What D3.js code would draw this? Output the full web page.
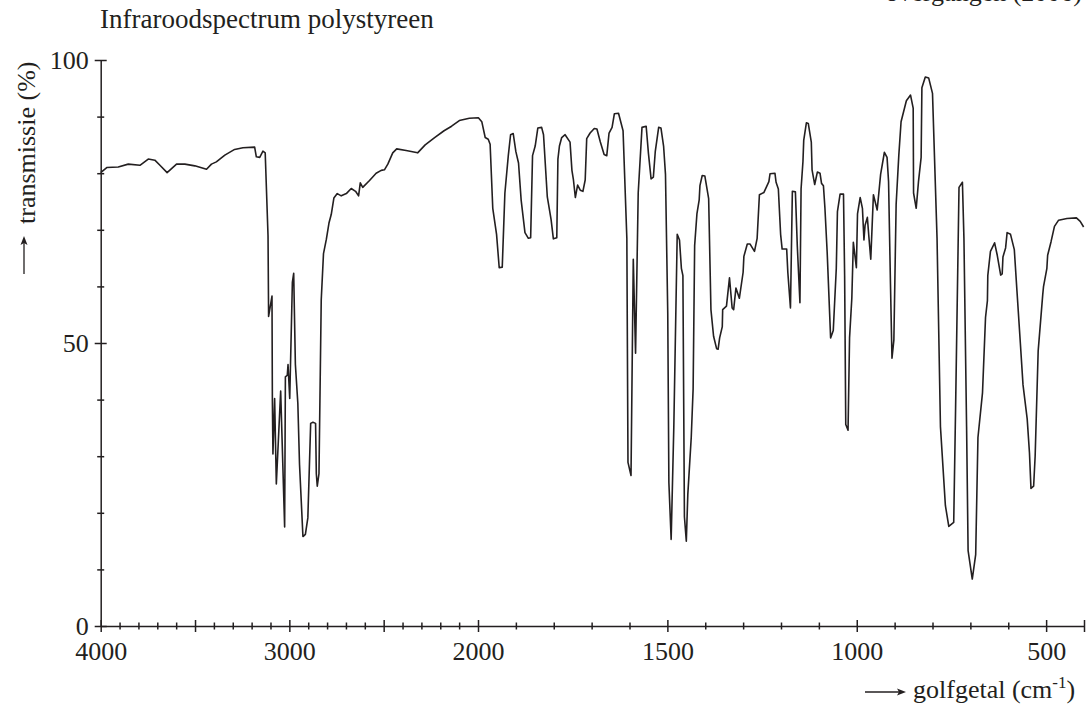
<!DOCTYPE html>
<html>
<head>
<meta charset="utf-8">
<script src="https://cdn.jsdelivr.net/npm/d3@7"></script>
<style>
  body { margin: 0; background: #fff; }
  text { font-family: "Liberation Serif", "Times New Roman", serif; fill: #231f20; }
</style>
</head>
<body>
<svg id="chart" width="1091" height="707"></svg>
<script>
// spectrum: wavenumber (cm-1) and transmission (%)
const wavenumber = [
  4000, 3968, 3907, 3854, 3792, 3748, 3713, 3686, 3648, 3598, 3554, 3501, 3439, 3413, 3387, 3342,
  3290, 3246, 3184, 3175, 3157, 3140, 3128, 3113, 3110, 3092, 3090, 3087, 3078, 3069, 3046, 3025,
  3021, 3011, 3007, 2998, 2984, 2977, 2968, 2955, 2946, 2928, 2915, 2902, 2887, 2875, 2861, 2857,
  2852, 2843, 2831, 2819, 2804, 2790, 2778, 2764, 2746, 2725, 2698, 2672, 2649, 2633, 2624, 2611,
  2575, 2540, 2513, 2496, 2478, 2452, 2431, 2381, 2320, 2280, 2230, 2180, 2140, 2099, 2046, 1999,
  1990, 1981, 1973, 1968, 1961, 1951, 1944, 1936, 1929, 1920, 1914, 1907, 1900, 1893, 1886, 1876,
  1867, 1861, 1856, 1849, 1842, 1832, 1827, 1817, 1807, 1801, 1792, 1789, 1785, 1779, 1770, 1757,
  1752, 1748, 1743, 1737, 1730, 1723, 1717, 1713, 1704, 1693, 1686, 1677, 1667, 1660, 1654, 1646,
  1640, 1629, 1617, 1607, 1604, 1596, 1590, 1584, 1577, 1567, 1556, 1550, 1543, 1537, 1532, 1523,
  1517, 1510, 1505, 1499, 1496, 1490, 1483, 1474, 1468, 1463, 1459, 1455, 1450, 1446, 1437, 1432,
  1428, 1422, 1416, 1414, 1408, 1401, 1391, 1385, 1378, 1370, 1366, 1362, 1355, 1354, 1344, 1336,
  1329, 1325, 1319, 1310, 1300, 1298, 1289, 1282, 1270, 1263, 1257, 1245, 1232, 1229, 1216, 1213,
  1207, 1201, 1197, 1185, 1182, 1175, 1170, 1162, 1157, 1150, 1147, 1142, 1140, 1133, 1128, 1120,
  1118, 1111, 1104, 1097, 1093, 1088, 1084, 1078, 1069, 1062, 1054, 1051, 1044, 1035, 1032, 1029,
  1023, 1019, 1013, 1009, 1001, 998, 991, 985, 981, 978, 972, 968, 963, 956, 946, 937,
  927, 920, 916, 911, 907, 902, 896, 889, 883, 869, 858, 851, 850, 843, 837, 830,
  828, 819, 810, 800, 788, 779, 766, 757, 744, 739, 730, 721, 717, 710, 706, 695,
  686, 680, 668, 660, 655, 654, 647, 636, 629, 620, 616, 614, 607, 603, 594, 584,
  577, 568, 561, 550, 544, 540, 533, 529, 521, 509, 507, 498, 496, 487, 478, 467,
  445, 420, 410, 401
];
const transmission = [
  80.1, 81.0, 81.1, 81.6, 81.4, 82.5, 82.3, 81.4, 80.1, 81.6, 81.6, 81.3, 80.7, 81.6, 82.0, 83.2,
  84.2, 84.5, 84.6, 82.9, 82.8, 83.9, 83.6, 68.9, 54.7, 58.3, 39.9, 30.4, 40.2, 25.1, 41.5, 17.5,
  44.0, 44.3, 46.2, 40.2, 60.7, 62.3, 46.2, 39.3, 28.5, 15.8, 16.2, 19.1, 35.8, 36.0, 35.8, 26.9,
  24.7, 26.9, 57.6, 65.8, 68.3, 71.2, 72.7, 75.6, 76.4, 76.0, 76.4, 77.3, 76.8, 76.0, 78.3, 77.5,
  78.7, 80.0, 80.5, 80.6, 81.6, 83.6, 84.3, 84.0, 83.6, 85.0, 86.3, 87.5, 88.3, 89.3, 89.7, 89.8,
  89.1, 86.3, 86.0, 85.1, 73.8, 69.2, 63.3, 63.4, 76.5, 83.1, 86.8, 87.0, 83.8, 81.8, 75.2, 69.5,
  68.5, 68.6, 83.1, 84.8, 88.0, 88.1, 86.8, 75.8, 71.8, 68.4, 68.6, 82.5, 84.8, 86.3, 86.8, 85.5,
  80.5, 78.8, 75.7, 77.9, 77.0, 76.8, 78.8, 86.1, 87.1, 87.9, 87.8, 85.5, 83.3, 83.1, 87.1, 88.1,
  90.5, 90.6, 87.5, 68.5, 28.9, 26.6, 64.8, 48.2, 76.5, 88.1, 88.3, 83.5, 79.0, 79.3, 83.8, 88.1,
  88.0, 84.8, 79.8, 55.2, 25.3, 15.3, 35.2, 69.2, 68.2, 63.2, 61.9, 19.3, 15.0, 23.3, 33.3, 41.9,
  67.2, 72.8, 75.3, 77.8, 79.6, 79.5, 75.5, 55.9, 51.2, 49.0, 48.9, 50.9, 52.9, 55.9, 56.5, 61.5,
  56.2, 55.9, 59.7, 57.9, 62.5, 65.3, 67.5, 67.5, 66.2, 68.5, 76.2, 76.6, 78.5, 79.9, 80.0, 78.4,
  77.2, 69.2, 66.6, 66.6, 62.5, 56.2, 76.8, 76.7, 67.2, 57.1, 77.2, 82.1, 85.8, 88.9, 88.8, 85.5,
  80.6, 78.0, 80.2, 80.0, 78.2, 77.8, 73.8, 65.9, 50.9, 52.2, 63.2, 73.2, 76.3, 76.3, 61.9, 35.6,
  34.6, 50.9, 57.9, 67.8, 63.3, 72.8, 75.7, 73.8, 68.2, 70.8, 72.2, 68.8, 64.8, 76.2, 73.5, 79.8,
  83.7, 82.8, 78.5, 60.5, 47.3, 50.5, 74.5, 83.1, 89.1, 92.8, 93.8, 91.5, 76.5, 73.8, 78.5, 82.8,
  95.1, 97.0, 96.8, 94.1, 68.5, 35.2, 21.3, 17.6, 18.3, 38.6, 77.5, 78.4, 68.5, 35.2, 13.3, 8.3,
  12.6, 33.3, 41.2, 54.5, 57.5, 61.9, 66.2, 67.7, 65.5, 62.0, 62.2, 65.2, 66.8, 69.5, 69.2, 66.5,
  59.2, 49.9, 42.6, 36.6, 30.6, 24.3, 24.7, 30.0, 48.6, 58.5, 59.9, 63.2, 65.5, 67.9, 70.6, 71.7,
  72.0, 72.1, 71.5, 70.5
];

// axis ticks
const xMajorTicks = [4000, 3500, 3000, 2500, 2000, 1500, 1000, 500, 400];
const xLabelTicks = [4000, 3000, 2000, 1500, 1000, 500];
const xMinorTicks = [3900, 3800, 3700, 3600, 3400, 3300, 3200, 3100, 2900, 2800, 2700, 2600,
  2400, 2300, 2200, 2100, 1900, 1800, 1700, 1600, 1400, 1300, 1200, 1100, 900, 800, 700, 600];
const yMajorTicks = [0, 50, 100];
const yMinorTicks = [10, 20, 30, 40, 60, 70, 80, 90];

const ink = '#231f20';
const svg = d3.select('#chart');
svg.append('rect').attr('width', 1091).attr('height', 707).attr('fill', '#fff');

// the wavenumber axis changes scale at 2000 cm-1
const x = d3.scaleLinear().domain([4000, 2000, 400]).range([100.7, 478, 1084]);
const y = d3.scaleLinear().domain([0, 100]).range([626, 60]);

// x axis
const gx = svg.append('g').attr('transform', `translate(0,${y(0)})`);
gx.append('g')
    .call(d3.axisBottom(x).tickValues(xMinorTicks).tickSizeOuter(0).tickFormat(''))
    .call(g => g.select('.domain').remove())
    .call(g => g.selectAll('.tick line').attr('y1', -3.5).attr('y2', 3.5));
gx.append('g')
    .call(d3.axisBottom(x).tickValues(xMajorTicks).tickSizeOuter(0)
        .tickFormat(d => xLabelTicks.includes(d) ? d : ''))
    .call(g => g.selectAll('.tick line').attr('y1', -6).attr('y2', 6))
    .call(g => g.selectAll('.tick text').attr('y', 34).attr('dy', 0));

// y axis
const gy = svg.append('g').attr('transform', `translate(${x(4000)},0)`);
gy.append('g')
    .call(d3.axisLeft(y).tickValues(yMinorTicks).tickSizeOuter(0).tickFormat(''))
    .call(g => g.select('.domain').remove())
    .call(g => g.selectAll('.tick line').attr('x1', -3.5).attr('x2', 3.5));
gy.append('g')
    .call(d3.axisLeft(y).tickValues(yMajorTicks).tickSizeOuter(0))
    .call(g => g.selectAll('.tick line').attr('x1', -6).attr('x2', 6))
    .call(g => g.selectAll('.tick text').attr('x', -12));

svg.selectAll('.domain, .tick line').attr('stroke', ink).attr('stroke-width', 1.5);
svg.selectAll('.tick text').attr('font-size', 26).attr('font-family', '"Liberation Serif", serif').attr('fill', ink);

// spectrum
const line = d3.line()
    .x((d, i) => x(wavenumber[i]))
    .y(d => y(d));
svg.append('path')
    .datum(transmission)
    .attr('d', line)
    .attr('fill', 'none')
    .attr('stroke', ink)
    .attr('stroke-width', 1.6)
    .attr('stroke-linejoin', 'round');

// titles and labels
svg.append('text').attr('x', 100).attr('y', 28).attr('font-size', 27)
    .text('Infraroodspectrum polystyreen');
svg.append('text').attr('x', 1082).attr('y', 1).attr('font-size', 26)
    .attr('text-anchor', 'end').text('overgangen (2006)');

// y label with arrow
svg.append('text')
    .attr('transform', 'translate(35,224) rotate(-90)')
    .attr('font-size', 26)
    .text('transmissie (%)');
svg.append('line').attr('x1', 24).attr('x2', 24).attr('y1', 274).attr('y2', 242)
    .attr('stroke', ink).attr('stroke-width', 1.3);
svg.append('path').attr('d', 'M24,236 L20.5,245 L24,243 L27.5,245 Z').attr('fill', ink);

// x label with arrow
const xl = svg.append('text').attr('x', 913).attr('y', 698).attr('font-size', 26);
xl.append('tspan').text('golfgetal (cm');
xl.append('tspan').attr('font-size', 17).attr('dy', -10).text('-1');
xl.append('tspan').attr('dy', 10).text(')');
svg.append('line').attr('x1', 865).attr('x2', 899).attr('y1', 692).attr('y2', 692)
    .attr('stroke', ink).attr('stroke-width', 1.3);
svg.append('path').attr('d', 'M906,692 L897,688.5 L899,692 L897,695.5 Z').attr('fill', ink);
</script>
</body>
</html>
